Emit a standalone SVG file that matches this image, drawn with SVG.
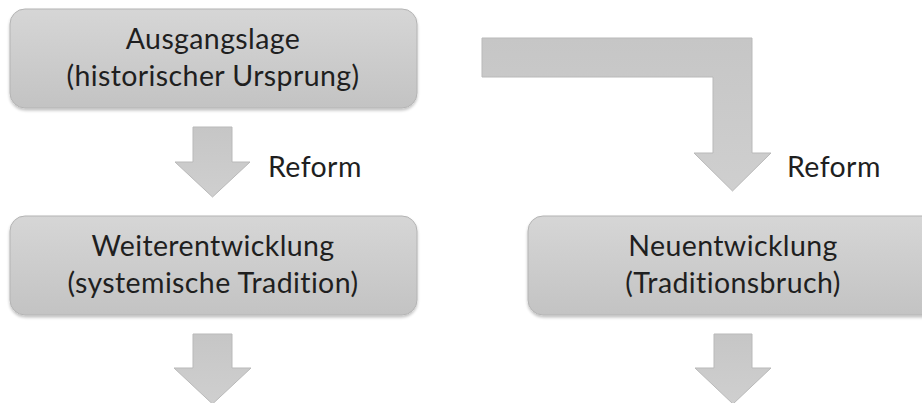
<svg xmlns="http://www.w3.org/2000/svg" width="922" height="403" viewBox="0 0 922 403">
  <defs>
    <linearGradient id="boxFill" x1="0" y1="0" x2="0" y2="1">
      <stop offset="0" stop-color="#d6d6d6"/>
      <stop offset="1" stop-color="#c3c3c3"/>
    </linearGradient>
    <linearGradient id="arrowFill" x1="0" y1="0" x2="0" y2="1">
      <stop offset="0" stop-color="#c6c6c6"/>
      <stop offset="1" stop-color="#cfcfcf"/>
    </linearGradient>
    <filter id="shadow" x="-5%" y="-10%" width="110%" height="130%">
      <feGaussianBlur in="SourceAlpha" stdDeviation="1.5"/>
      <feOffset dx="0" dy="1.5" result="b"/>
      <feComponentTransfer><feFuncA type="linear" slope="0.25"/></feComponentTransfer>
      <feMerge><feMergeNode/><feMergeNode in="SourceGraphic"/></feMerge>
    </filter>
  </defs>
  <style>
    .box { fill: url(#boxFill); stroke: #b4b4b4; stroke-width: 1; filter: url(#shadow); }
    .arrow { fill: url(#arrowFill); stroke: #b9b9b9; stroke-width: 1; }
    text { font-family: Lato, "Open Sans", "Liberation Sans", sans-serif; font-size: 28.5px; fill: #1f1f1f;
           letter-spacing: 0.4px; font-variant-ligatures: none; font-feature-settings: "liga" 0, "clig" 0; }
    .label { text-anchor: middle; }
  </style>

  <!-- nodes -->
  <g id="ausgangslage">
    <rect class="box" x="10" y="9" width="407" height="99" rx="15" ry="15"/>
    <text class="label" x="213" y="49">Ausgangslage</text>
    <text class="label" x="213" y="86">(historischer Ursprung)</text>
  </g>

  <g id="weiterentwicklung">
    <rect class="box" x="10" y="216" width="407" height="99" rx="15" ry="15"/>
    <text class="label" x="213" y="256">Weiterentwicklung</text>
    <text class="label" x="213" y="293">(systemische Tradition)</text>
  </g>

  <g id="neuentwicklung">
    <rect class="box" x="528" y="216" width="412" height="99" rx="15" ry="15"/>
    <text class="label" x="733" y="256">Neuentwicklung</text>
    <text class="label" x="733" y="293">(Traditionsbruch)</text>
  </g>

  <!-- connectors -->
  <g id="connectors">
    <!-- Ausgangslage to Weiterentwicklung -->
    <polygon class="arrow" points="193,127 232,127 232,162 250,162 212.5,197 175,162 193,162"/>
    <!-- bent arrow from the top row down to Neuentwicklung -->
    <polygon class="arrow" points="482,38 752,38 752,153 771,153 732.5,191 694,153 713,153 713,77 482,77"/>
    <!-- arrows leaving the second row -->
    <polygon class="arrow" points="193,334 232,334 232,368 251,368 212.5,404 174,368 193,368"/>
    <polygon class="arrow" points="714,334 752,334 752,368 771,368 733,404 695,368 714,368"/>
    <text x="268" y="177">Reform</text>
    <text x="787" y="177">Reform</text>
  </g>
</svg>
